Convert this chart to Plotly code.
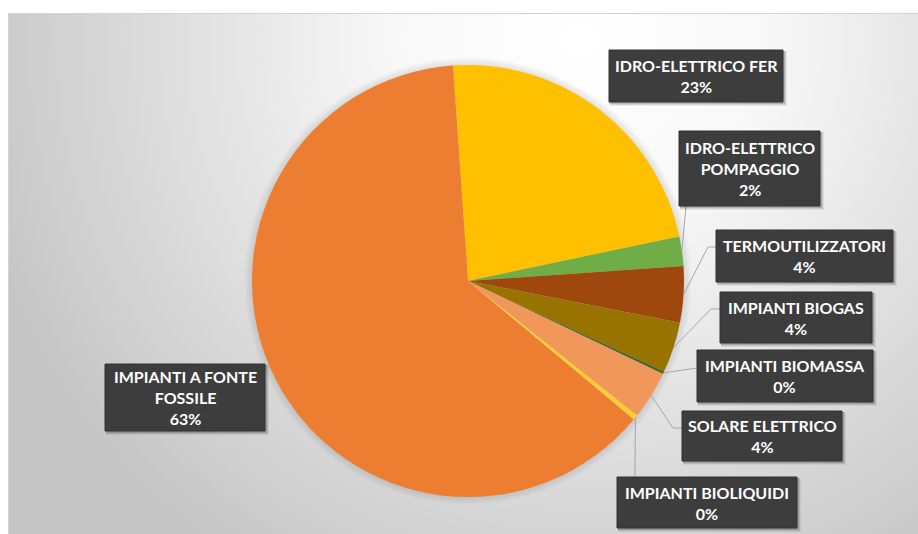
import math, base64
import plotly.graph_objects as go

# ---- data ----
categories = ["IDRO-ELETTRICO FER", "IDRO-ELETTRICO POMPAGGIO", "TERMOUTILIZZATORI",
              "IMPIANTI BIOGAS", "IMPIANTI BIOMASSA", "SOLARE ELETTRICO",
              "IMPIANTI BIOLIQUIDI", "IMPIANTI A FONTE FOSSILE"]
display_names = ["IDRO-ELETTRICO FER", "IDRO-ELETTRICO<br>POMPAGGIO", "TERMOUTILIZZATORI",
                 "IMPIANTI BIOGAS", "IMPIANTI BIOMASSA", "SOLARE ELETTRICO",
                 "IMPIANTI BIOLIQUIDI", "IMPIANTI A FONTE<br>FOSSILE"]
values = [22.8, 2.2, 4.2, 3.8, 0.2, 3.6, 0.4, 62.8]

# ---- styles / layout ----
colors = ["#FFC000", "#70AD47", "#9E480E", "#997300", "#43682B", "#F1975A", "#FFCD33", "#ED7D31"]
W, H = 918, 534
CX, CY, R = 468, 281, 216
ROTATION = -4

# label boxes in pixels (left, top, right, bottom)
boxes = [(609, 50, 783, 102), (679, 131, 820, 206), (716, 230, 893, 282),
         (720, 292, 872, 343), (697, 350, 873, 402), (682, 411, 842, 461),
         (617, 477, 797, 528), (105, 364, 265, 431)]
# leader line path after the pie point: list of pixel points (None = no leader)
leaders = [None, [(686, 206)], [(708, 247), (716, 247)], [(711, 309), (720, 309)],
           [(697, 368)], [(673, 428), (682, 428)], [(635, 477)], None]

def px(x):
    return x / W

def py(y):
    return 1 - y / H

total = sum(values)

# background gradient as svg
bg_svg = f'''<svg xmlns="http://www.w3.org/2000/svg" width="{W}" height="{H}" viewBox="0 0 {W} {H}">
<defs><radialGradient id="g" gradientUnits="userSpaceOnUse" cx="580" cy="40" r="620">
<stop offset="0" stop-color="#ffffff"/><stop offset="0.3" stop-color="#f8f8f8"/>
<stop offset="1" stop-color="#c6c6c6"/></radialGradient>
<radialGradient id="s" gradientUnits="userSpaceOnUse" cx="{CX}" cy="{CY}" r="{R + 8}">
<stop offset="0.94" stop-color="#000" stop-opacity="0.18"/>
<stop offset="1" stop-color="#000" stop-opacity="0"/></radialGradient></defs>
<rect x="8.5" y="13.5" width="{W}" height="{H}" fill="url(#g)" stroke="#d4d4d4" stroke-width="1"/>
<circle cx="{CX}" cy="{CY}" r="{R + 8}" fill="url(#s)"/>
</svg>'''
bg_uri = "data:image/svg+xml;base64," + base64.b64encode(bg_svg.encode()).decode()

fig = go.Figure()
fig.add_trace(go.Pie(
    labels=categories, values=values, sort=False, direction="clockwise",
    rotation=ROTATION, textinfo="none", hoverinfo="label+percent",
    marker=dict(colors=colors, line=dict(width=0)),
    domain=dict(x=[px(CX - R), px(CX + R)], y=[py(CY + R), py(CY - R)]),
    showlegend=False,
))

shapes = []
annotations = []
cum = 0.0
for i, v in enumerate(values):
    mid = ROTATION + (cum + v / 2) / total * 360
    cum += v
    a = math.radians(mid)
    ex, ey = CX + R * math.sin(a), CY - R * math.cos(a)
    if leaders[i]:
        pts = [(ex, ey)] + leaders[i]
        path = "M " + " L ".join(f"{px(x):.5f},{py(y):.5f}" for x, y in pts)
        shapes.append(dict(type="path", path=path, xref="paper", yref="paper",
                           line=dict(color="#a6a6a6", width=1), layer="above"))
    l, t, r, b = boxes[i]
    # shadow
    for k, op in [(4, 0.06), (3, 0.10), (2, 0.14)]:
        shapes.append(dict(type="rect", xref="paper", yref="paper",
                           x0=px(l + 1), x1=px(r + k), y0=py(b + k), y1=py(t + 1),
                           fillcolor=f"rgba(0,0,0,{op})", line=dict(width=0), layer="above"))
    shapes.append(dict(type="rect", xref="paper", yref="paper",
                       x0=px(l), x1=px(r), y0=py(b), y1=py(t),
                       fillcolor="#3d3d3d", line=dict(color="#333333", width=1), layer="above"))
    pct = f"{round(v / total * 100):.0f}%"
    annotations.append(dict(text=f"{display_names[i]}<br>{pct}", xref="paper", yref="paper",
                            x=px((l + r) / 2), y=py((t + b) / 2), xanchor="center", yanchor="middle",
                            showarrow=False, align="center",
                            font=dict(family="Lato", size=16, color="white", weight="bold")))

fig.update_layout(
    width=W, height=H, margin=dict(l=0, r=0, t=0, b=0),
    paper_bgcolor="white", plot_bgcolor="white",
    shapes=shapes, annotations=annotations,
    images=[dict(source=bg_uri, xref="paper", yref="paper", x=0, y=1, sizex=1, sizey=1,
                 xanchor="left", yanchor="top", sizing="stretch", layer="below")],
)
fig.write_html("out.html")
